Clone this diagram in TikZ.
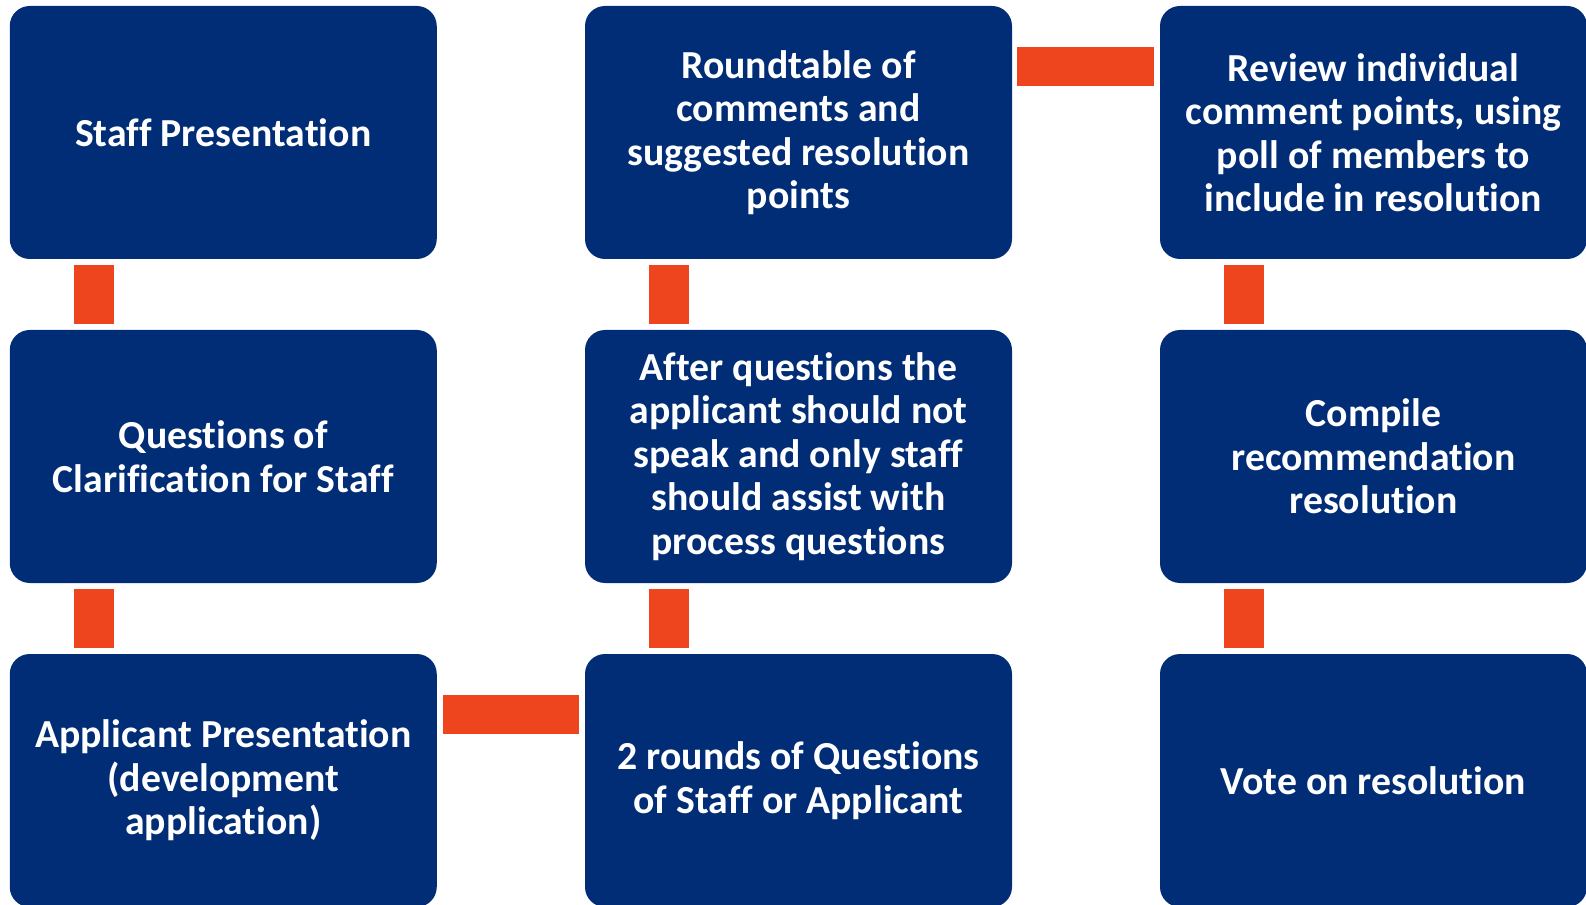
\documentclass[tikz,border=0pt]{standalone}
\usepackage{fontspec}
\setmainfont[Ligatures=NoCommon]{Carlito}
\usetikzlibrary{calc}
\definecolor{stepblue}{RGB}{0,45,117}
\definecolor{linkorange}{RGB}{239,69,30}
\begin{document}
\begin{tikzpicture}[x=0.75pt,y=-0.75pt,
  stepbox/.style={fill=stepblue,draw=none,rounded corners=15pt,
    minimum width=320.25pt,minimum height=189.75pt,inner sep=0pt,
    text=white,align=center,
    font=\fontsize{29.8pt}{32.6pt}\selectfont\bfseries},
  link/.style={fill=linkorange,draw=none}]
\useasboundingbox (0,0) rectangle (1586,905);
\clip (0,0) rectangle (1586,905);
% first column
\node[stepbox] (s1) at (223.25,132.5) {Staff Presentation};
\node[stepbox] (s2) at (223.25,456.5) {Questions of\\Clarification for Staff};
\node[stepbox] (s3) at (223.25,780.5) {Applicant Presentation\\(development\\application)};
% second column
\node[stepbox] (s4) at (798.5,780.5) {2 rounds of Questions\\of Staff or Applicant};
\node[stepbox] (s5) at (798.5,456.5) {After questions the\\applicant should not\\speak and only staff\\should assist with\\process questions};
\node[stepbox] (s6) at (798.5,132.5) {Roundtable of\\comments and\\suggested resolution\\points};
% third column
\node[stepbox] (s7) at (1373.5,132.5) {Review individual\\comment points, using\\poll of members to\\include in resolution};
\node[stepbox] (s8) at (1373.5,456.5) {Compile\\recommendation\\resolution};
\node[stepbox] (s9) at (1373.5,780.5) {Vote on resolution};
% vertical links
\fill[link] ($(s1.south west)+(64.5,6)$) rectangle ($(s2.north west)+(104.5,-5.5)$);
\fill[link] ($(s2.south west)+(64.5,6)$) rectangle ($(s3.north west)+(104.5,-5.5)$);
\fill[link] ($(s4.north west)+(64,-5.5)$) rectangle ($(s5.south west)+(104,6)$);
\fill[link] ($(s5.north west)+(64,-5.5)$) rectangle ($(s6.south west)+(104,6)$);
\fill[link] ($(s7.south west)+(64,6)$) rectangle ($(s8.north west)+(104,-5.5)$);
\fill[link] ($(s8.south west)+(64,6)$) rectangle ($(s9.north west)+(104,-5.5)$);
% horizontal links
\fill[link] ($(s3.north east)+(5.5,41)$) rectangle ($(s4.north west)+(-6,80)$);
\fill[link] ($(s6.north east)+(5,41)$) rectangle ($(s7.north west)+(-6,80)$);
\end{tikzpicture}
\end{document}
